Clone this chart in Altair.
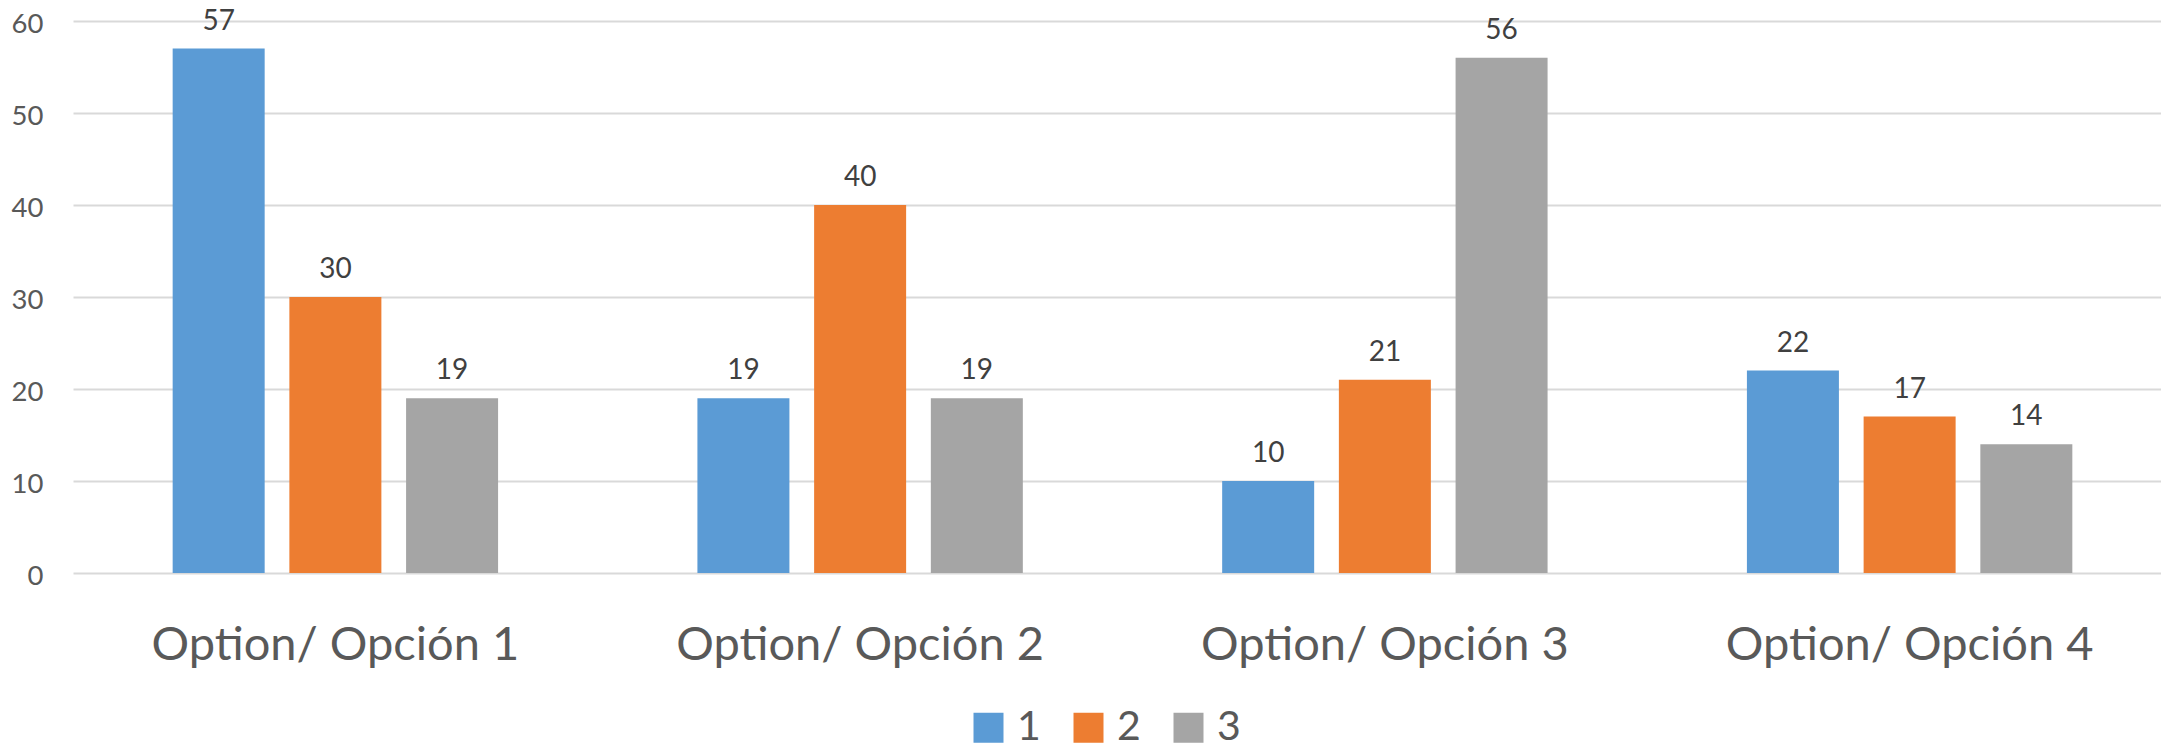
import altair as alt
import pandas as pd

categories = ["Option/ Opción 1", "Option/ Opción 2", "Option/ Opción 3", "Option/ Opción 4"]
series = ["1", "2", "3"]
values_1 = [57, 19, 10, 22]
values_2 = [30, 40, 21, 17]
values_3 = [19, 19, 56, 14]
colors = ["#5B9BD5", "#ED7D31", "#A5A5A5"]
y_ticks = [0, 10, 20, 30, 40, 50, 60]

rows = []
for s, vals in zip(series, [values_1, values_2, values_3]):
    for c, v in zip(categories, vals):
        rows.append({"category": c, "series": s, "value": v})
df = pd.DataFrame(rows)

FONT = "Lato"

x = alt.X(
    "category:N",
    sort=categories,
    scale=alt.Scale(paddingInner=0, paddingOuter=0, range=[0, 2099]),
    axis=alt.Axis(
        title=None, labelAngle=0, labelFont=FONT, labelFontSize=47,
        labelColor="#595959", labelBaseline="alphabetic", labelPadding=86,
        labelLimit=0, ticks=False, domain=False, grid=False,
    ),
)
xo = alt.XOffset(
    "series:N", sort=series,
    scale=alt.Scale(paddingInner=0.2117, paddingOuter=0.854),
)
y = alt.Y(
    "value:Q",
    scale=alt.Scale(domain=[0, 60]),
    axis=alt.Axis(
        title=None, values=y_ticks, labelFont=FONT, labelFontSize=27.5,
        labelColor="#595959", labelBaseline="alphabetic", labelOffset=11,
        labelPadding=30, ticks=False, domain=False,
        gridColor="#D9D9D9", gridWidth=2,
    ),
)
color = alt.Color(
    "series:N",
    scale=alt.Scale(domain=series, range=colors),
    legend=alt.Legend(
        title=None, orient="none", legendX=895, legendY=686,
        direction="horizontal", symbolType="square", symbolSize=900,
        symbolStrokeWidth=0, labelFont=FONT, labelFontSize=41,
        labelColor="#595959", labelOffset=8, columnPadding=27, padding=0,
    ),
)

bars = alt.Chart(df).mark_bar().encode(x=x, xOffset=xo, y=y, color=color)
labels = alt.Chart(df).mark_text(
    dy=-19, baseline="alphabetic", align="center", font=FONT,
    fontSize=28, color="#404040",
).encode(x=x, xOffset=xo, y=y, text="value:Q")

chart = alt.layer(bars, labels).properties(
    width=2088, height=552,
    autosize=alt.AutoSizeParams(type="none"),
    padding={"left": 65, "top": 13, "right": 0, "bottom": 170},
).configure_view(stroke=None)

chart.save("out.html", embed_options={"renderer": "svg", "actions": False})
